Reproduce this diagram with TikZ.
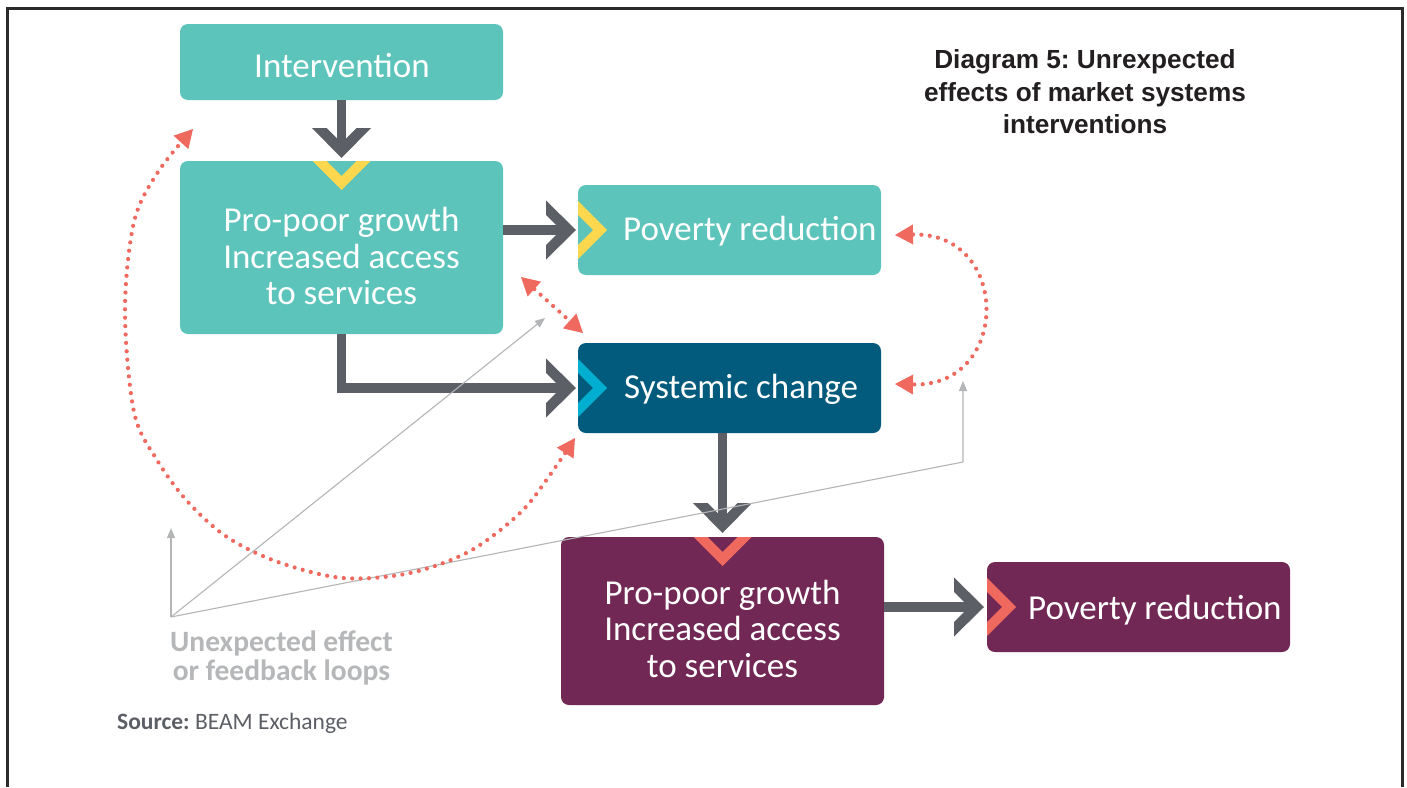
\documentclass[tikz,border=0pt]{standalone}
\usepackage{fontspec}
\setmainfont{Carlito}
\newfontfamily\titlefont{Liberation Sans}
\usetikzlibrary{arrows.meta,calc}
\definecolor{teal1}{HTML}{5CC4BA}
\definecolor{darkblue}{HTML}{025A7D}
\definecolor{plum}{HTML}{722855}
\definecolor{yellow1}{HTML}{FDD84F}
\definecolor{cyan1}{HTML}{00AFCF}
\definecolor{salmon}{HTML}{F0695F}
\definecolor{arrowgray}{HTML}{5D5F66}
\definecolor{thingray}{HTML}{B3B5B6}
\definecolor{lblgray}{HTML}{B5B7B9}
\definecolor{titleblack}{HTML}{231F20}
\definecolor{framecol}{HTML}{2B2B2B}
\frenchspacing
\begin{document}
\begin{tikzpicture}[x=1pt,y=-1pt,
  box/.style={rectangle, rounded corners=8pt, inner sep=0pt, outer sep=0pt},
  boxtxt/.style={text=white, inner sep=0pt, font=\fontsize{35}{36.5}\selectfont, align=center},
  shaft/.style={draw=arrowgray, line width=9.5pt},
  thinline/.style={draw=thingray, line width=1.1pt},
  thintip/.style={-{Triangle[length=10pt,width=8pt]}},
  dotline/.style={draw=salmon, line width=4.2pt, line cap=round, dash pattern=on 0pt off 8.4pt},
  redtips/.style={{Triangle[length=18pt,width=20pt,line width=0pt]}-{Triangle[length=18pt,width=20pt,line width=0pt]}},
  pics/chev/.style={code={\fill[arrowgray] (-30,-29.5) -- (0,0) -- (-30,29.5) -- (-30,15) -- (-15,0) -- (-30,-15) -- cycle;}},
  pics/band/.style={code={\fill[#1] (0,-29) -- (29,0) -- (0,29) -- (0,15) -- (15,0) -- (0,-15) -- cycle;}},
]
\useasboundingbox (0,0) rectangle (1407,787);
\fill[white] (0,0) rectangle (1407,787);
% frame
\draw[framecol, line width=2.6pt] (7.5,787) -- (7.5,8.5) -- (1402.5,8.5) -- (1402.5,787);

% boxes
\node[box, fill=teal1, minimum width=323pt, minimum height=76pt] (int) at (341.5,62) {};
\node[box, fill=teal1, minimum width=323pt, minimum height=173pt] (pp1) at (341.5,247.5) {};
\node[box, fill=teal1, minimum width=303pt, minimum height=90pt] (pov1) at (729.5,230) {};
\node[box, fill=darkblue, minimum width=303pt, minimum height=90pt] (sys) at (729.5,388) {};
\node[box, fill=plum, minimum width=323pt, minimum height=168pt] (pp2) at (722.5,621) {};
\node[box, fill=plum, minimum width=303pt, minimum height=90pt] (pov2) at (1138.5,607) {};

% coloured bands
\pic at (pov1.west) {band=yellow1};
\pic at (sys.west) {band=cyan1};
\pic at (pov2.west) {band=salmon};
\pic[rotate=-90] at (pp1.north) {band=yellow1};
\pic[rotate=-90] at (pp2.north) {band=salmon};

% texts
\node[boxtxt, anchor=base west] (intt) at (254,77) {Intervention};
\node[boxtxt] (pp1t) at (341.5,256) {Pro-poor growth\\Increased access\\to services};
\node[boxtxt, anchor=base west] (pov1t) at (623,240) {Poverty reduction};
\node[boxtxt, anchor=base west] (syst) at (624,398) {Systemic change};
\node[boxtxt] (pp2t) at (722.5,628.5) {Pro-poor growth\\Increased access\\to services};
\node[boxtxt, anchor=base west] (pov2t) at (1028,619) {Poverty reduction};

% gray arrows
\draw[shaft, shorten >=13pt] (int.south) -- (pp1.north);
\pic[rotate=-90] at ($(pp1.north)+(0,-3)$) {chev};
\draw[shaft, shorten >=12pt] (pov1.west -| pp1.east) -- (pov1.west);
\pic at ($(pov1.west)+(-2,0)$) {chev};
\draw[shaft, shorten >=12pt] (pp1.south) |- (sys.west);
\pic at ($(sys.west)+(-2,0)$) {chev};
\draw[shaft, shorten >=14pt] (pp2.north |- sys.south) -- (pp2.north);
\pic[rotate=-90] at ($(pp2.north)+(0,-4)$) {chev};
\draw[shaft, shorten >=13pt] (pov2.west -| pp2.east) -- (pov2.west);
\pic at ($(pov2.west)+(-3,0)$) {chev};

% thin gray lines
\coordinate (src) at (171,617);
\coordinate (t1) at (171,528);
\coordinate (t2) at (545,318);
\coordinate (c3) at (963,462);
\coordinate (t3) at (963,381);
\draw[thinline, thintip] (src) -- (t1);
\draw[thinline, thintip] (src) -- (t2);
\draw[thinline, thintip] (src) -- (c3) -- (t3);

% dotted feedback loops
\coordinate (a1s) at (575,438);
\coordinate (a1e) at (193,129);
\draw[dotline, redtips] plot[smooth, tension=0.55] coordinates {(a1s) (550,475) (520,513) (470,551) (410,573) (343,578) (278,562) (227,537) (188,502) (157,460) (134,412) (125,311) (134,222) (158,172) (a1e)};
\coordinate (b1) at (521,277);
\coordinate (b2) at (583,333);
\draw[dotline, redtips] (b1) -- (b2);
\coordinate (r1) at (895,235);
\coordinate (r2) at (895,384);
\draw[dotline, redtips] (r1) .. controls (1011,232) and (1011,387) .. (r2);

% labels
\node[inner sep=0pt, align=center, text=lblgray, font=\bfseries\fontsize{29.5}{29}\selectfont] (lbl) at (281.5,658) {Unexpected effect\\or feedback loops};
\node[anchor=base west, inner sep=0pt, text=arrowgray, font=\fontsize{23.5}{28}\selectfont] (source) at (117,729) {\textbf{Source:} BEAM Exchange};
\node[anchor=north, inner sep=0pt, align=center, text=titleblack, font=\titlefont\bfseries\fontsize{26.2}{32.5}\selectfont] (title) at (1085,49.5) {Diagram 5: Unrexpected\\effects of market systems\\interventions};
\end{tikzpicture}
\end{document}
